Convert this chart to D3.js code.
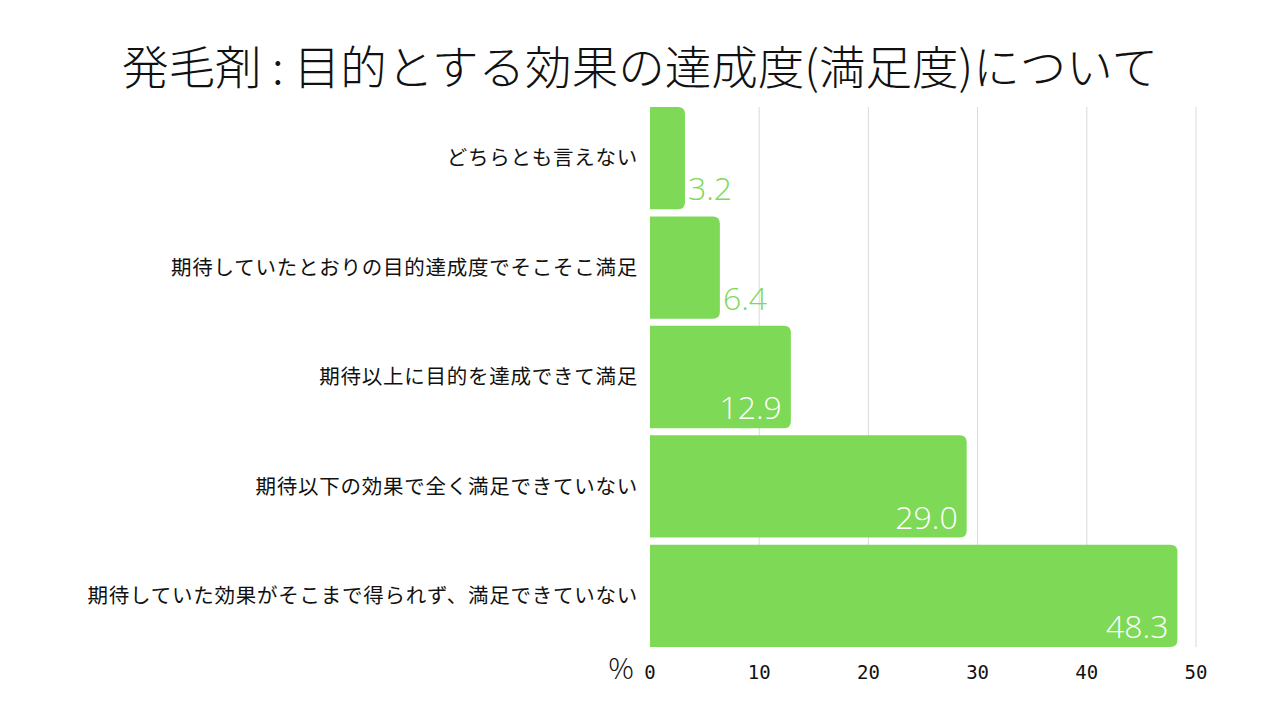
<!DOCTYPE html>
<html lang="ja">
<head>
<meta charset="UTF-8">
<title>発毛剤：目的とする効果の達成度(満足度)について</title>
<style>
  body { margin: 0; background: #fff; }
  svg { display: block; }
</style>
</head>
<body>
<div id="chart"></div>
<script src="https://cdn.jsdelivr.net/npm/d3@7"></script>
<script>
// data, top to bottom as in the picture
const categories = [
  "どちらとも言えない",
  "期待していたとおりの目的達成度でそこそこ満足",
  "期待以上に目的を達成できて満足",
  "期待以下の効果で全く満足できていない",
  "期待していた効果がそこまで得られず、満足できていない"
];
const values = [3.2, 6.4, 12.9, 29.0, 48.3];
const xTicks = [0, 10, 20, 30, 40, 50];

const width = 1280, height = 720;
const green = "#7ed957";

const svg = d3.select("#chart").append("svg")
  .attr("width", width)
  .attr("height", height);

const x = d3.scaleLinear().domain([0, 50]).range([650, 1196]);
const y = d3.scaleBand().domain(categories).range([107, 647]).paddingInner(0.065).paddingOuter(0);

// title
svg.append("text")
  .attr("x", 640)
  .attr("y", 84)
  .attr("text-anchor", "middle")
  .attr("font-family", "'Noto Sans CJK JP', sans-serif")
  .attr("font-weight", 300)
  .attr("font-size", 46)
  .attr("textLength", 1036)
  .attr("lengthAdjust", "spacingAndGlyphs")
  .attr("fill", "#111")
  .text("発毛剤 : 目的とする効果の達成度(満足度)について");

// grid lines
svg.append("g")
  .selectAll("line")
  .data(xTicks.slice(1))
  .join("line")
  .attr("x1", d => x(d)).attr("x2", d => x(d))
  .attr("y1", 107).attr("y2", 647)
  .attr("stroke", "#d9d9d9")
  .attr("stroke-width", 1);

// bars, square on the left, rounded on the right
const r = 7;
function barPath(v, cat) {
  const x0 = x(0), x1 = x(v), y0 = y(cat), y1 = y(cat) + y.bandwidth();
  return `M${x0},${y0}H${x1 - r}Q${x1},${y0} ${x1},${y0 + r}V${y1 - r}Q${x1},${y1} ${x1 - r},${y1}H${x0}Z`;
}
svg.append("g")
  .selectAll("path")
  .data(values)
  .join("path")
  .attr("d", (d, i) => barPath(d, categories[i]))
  .attr("fill", green);

// category labels
svg.append("g")
  .selectAll("text")
  .data(categories)
  .join("text")
  .attr("x", 638)
  .attr("y", d => y(d) + y.bandwidth() / 2)
  .attr("dy", "0.35em")
  .attr("text-anchor", "end")
  .attr("font-family", "'Noto Sans CJK JP', sans-serif")
  .attr("font-size", 20.5)
  .attr("letter-spacing", 0.75)
  .attr("fill", "#111")
  .text(d => d);

// value labels
svg.append("g")
  .selectAll("text")
  .data(values)
  .join("text")
  .attr("x", d => d >= 10 ? x(d) - 9 : x(d) + 3)
  .attr("y", (d, i) => y(categories[i]) + y.bandwidth() - 9)
  .attr("text-anchor", d => d >= 10 ? "end" : "start")
  .attr("font-family", "'Open Sans', sans-serif")
  .attr("font-weight", 300)
  .attr("font-size", 32)
  .attr("fill", d => d >= 10 ? "#fff" : green)
  .text(d => d.toFixed(1));

// x axis tick labels
svg.append("g")
  .selectAll("text")
  .data(xTicks)
  .join("text")
  .attr("x", d => x(d))
  .attr("y", 679)
  .attr("text-anchor", "middle")
  .attr("font-family", "'DejaVu Sans Mono', monospace")
  .attr("font-size", 19)
  .attr("fill", "#111")
  .text(d => d);

svg.append("text")
  .attr("x", 621)
  .attr("y", 679)
  .attr("text-anchor", "middle")
  .attr("font-family", "'Noto Sans CJK JP', sans-serif")
  .attr("font-weight", 300)
  .attr("font-size", 28)
  .attr("fill", "#111")
  .text("%");
</script>
</body>
</html>
